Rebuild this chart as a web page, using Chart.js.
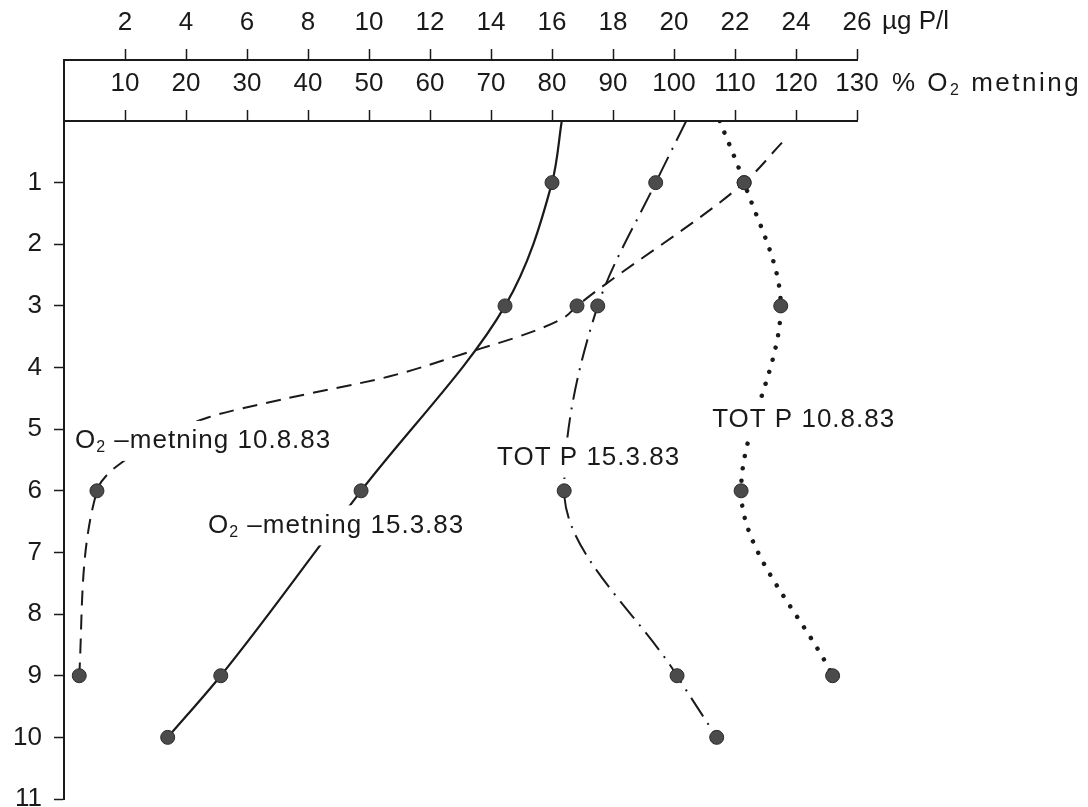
<!DOCTYPE html>
<html>
<head>
<meta charset="utf-8">
<script src="https://cdn.jsdelivr.net/npm/chart.js@4.4.1/dist/chart.umd.min.js"></script>
<style>
  html, body { margin: 0; padding: 0; background: #fff; }
  canvas { display: block; }
</style>
</head>
<body>
<canvas id="chart" width="1088" height="807"></canvas>
<script>
'use strict';
const depthO2Mar   = [0, 1, 3, 6, 9, 10];
const o2Mar        = [81.6, 80.0, 72.3, 48.7, 25.7, 17.0];          // % O2 metning 15.3.83
const sampledO2Mar = [false, true, true, true, true, true];

const depthO2Aug   = [0.35, 1, 3, 3.2, 3.45, 3.78, 4.15, 4.51, 4.81, 5.56, 6, 9];
const o2Aug        = [117.7, 111.5, 84.1, 81.8, 75.9, 65.4, 53.1, 36.1, 23.6, 9.2, 5.4, 2.5]; // % O2 metning 10.8.83
const sampledO2Aug = [false, true, true, false, false, false, false, false, false, false, true, true];

const depthPMar    = [0, 1, 3, 6, 9, 10];
const totPMar      = [20.4, 19.4, 17.5, 16.4, 20.1, 21.4];          // µg P/l 15.3.83
const sampledPMar  = [false, true, true, true, true, true];

const depthPAug    = [0, 1, 3, 6, 9];
const totPAug      = [21.5, 22.3, 23.5, 22.2, 25.2];                // µg P/l 10.8.83
const sampledPAug  = [false, true, true, true, true];

const pTicks  = { min: 0, max: 26, step: 2 };
const o2Ticks = { min: 0, max: 130, step: 10 };
const depthTicks = { min: 0, max: 11, step: 1 };

const INK = '#1a1a1a';
const FAMILY = "'Liberation Sans', Arial, Helvetica, sans-serif";
const MAIN_FONT = '26px ' + FAMILY;
const SUB_FONT = '16px ' + FAMILY;

function points(depths, values, sampled) {
  return depths.map((d, i) => ({ x: values[i], y: d, s: sampled[i] }));
}

function lineSet(data, axis, dash, width, cap) {
  return {
    data, xAxisID: axis,
    borderColor: INK, borderWidth: width, borderDash: dash, borderCapStyle: cap || 'butt',
    cubicInterpolationMode: 'monotone', fill: false,
    pointRadius: c => (c.raw && c.raw.s ? 7 : 0),
    pointBackgroundColor: '#4b4b4b', pointBorderColor: '#2b2b2b', pointBorderWidth: 1,
  };
}

// curve labels, placed in data units
const notes = [
  { axis: 'xO', x: 1.8,   depth: 5.19, parts: [['O'], ['2', 1], [' \u2013metning 10.8.83']] },
  { axis: 'xO', x: 23.6,  depth: 6.56, parts: [['O'], ['2', 1], [' \u2013metning 15.3.83']] },
  { axis: 'xP', x: 14.2,  depth: 5.46, parts: [['TOT P 15.3.83']] },
  { axis: 'xP', x: 21.25, depth: 4.85, parts: [['TOT P 10.8.83']] },
];

function drawParts(ctx, parts, x, y, measureOnly) {
  let cx = x;
  parts.forEach(([t, sub]) => {
    ctx.font = sub ? SUB_FONT : MAIN_FONT;
    if (!measureOnly) ctx.fillText(t, cx, sub ? y + 7 : y);
    cx += ctx.measureText(t).width;
  });
  return cx - x;
}

const extras = {
  id: 'extras',
  afterDatasetsDraw(chart) {
    const { ctx, scales } = chart;
    ctx.save();
    ctx.textBaseline = 'middle';
    ctx.textAlign = 'left';
    if ('letterSpacing' in ctx) ctx.letterSpacing = '1px';
    notes.forEach(n => {
      const x = scales[n.axis].getPixelForValue(n.x);
      const y = scales.y.getPixelForValue(n.depth);
      const w = drawParts(ctx, n.parts, x, y, true);
      ctx.fillStyle = '#fff';
      ctx.fillRect(x - 4, y - 20, w + 8, 40);
      ctx.fillStyle = INK;
      drawParts(ctx, n.parts, x, y);
    });
    ctx.restore();
  },
  afterDraw(chart) {
    const { ctx, chartArea, scales } = chart;
    ctx.save();
    // left axis runs up to the outer (µg) axis line
    ctx.strokeStyle = INK;
    ctx.lineWidth = 2;
    ctx.beginPath();
    ctx.moveTo(chartArea.left, scales.xP.bottom - 1);
    ctx.lineTo(chartArea.left, chartArea.top);
    ctx.stroke();
    // unit labels right of the axes
    ctx.fillStyle = INK;
    ctx.textBaseline = 'middle';
    ctx.textAlign = 'left';
    ctx.font = MAIN_FONT;
    ctx.fillText('\u00b5g P/l', chartArea.right + 25, 22);
    if ('letterSpacing' in ctx) ctx.letterSpacing = '2.5px';
    drawParts(ctx, [['% O'], ['2', 1], [' metning']], chartArea.right + 35, 84);
    ctx.restore();
  }
};

function hideZero(v) { return v === 0 ? '' : v; }
function tickInk(c) { return c.tick && c.tick.value === 0 ? 'rgba(0,0,0,0)' : INK; }

Chart.defaults.font.family = FAMILY;
Chart.defaults.font.size = 26;
Chart.defaults.color = INK;

new Chart(document.getElementById('chart'), {
  type: 'line',
  data: {
    datasets: [
      lineSet(points(depthO2Mar, o2Mar, sampledO2Mar), 'xO', [], 2.2),
      lineSet(points(depthPMar, totPMar, sampledPMar), 'xP', [22, 8, 2, 8], 2),
      lineSet(points(depthO2Aug, o2Aug, sampledO2Aug), 'xO', [15, 9], 2),
      lineSet(points(depthPAug, totPAug, sampledPAug), 'xP', [0.01, 12.5], 4.5, 'round'),
    ]
  },
  options: {
    responsive: false,
    animation: false,
    indexAxis: 'y',
    layout: { padding: { left: 0, top: 0, right: 231, bottom: 5 } },
    plugins: { legend: { display: false }, tooltip: { enabled: false } },
    scales: {
      xP: {
        type: 'linear', position: 'top', weight: 1,
        min: pTicks.min, max: pTicks.max,
        ticks: { stepSize: pTicks.step, padding: 11, maxRotation: 0, autoSkip: false, callback: hideZero },
        grid: { drawOnChartArea: false, tickLength: 11, tickWidth: 1.5, tickColor: tickInk },
        border: { display: true, color: INK, width: 2 },
        afterFit: s => { s.height = 60; }
      },
      xO: {
        type: 'linear', position: 'top', weight: 0,
        min: o2Ticks.min, max: o2Ticks.max,
        ticks: { stepSize: o2Ticks.step, padding: 11, maxRotation: 0, autoSkip: false, callback: hideZero },
        grid: { drawOnChartArea: false, tickLength: 11, tickWidth: 1.5, tickColor: tickInk },
        border: { display: true, color: INK, width: 2 },
        afterFit: s => { s.height = 61; }
      },
      y: {
        type: 'linear', position: 'left', reverse: true,
        min: depthTicks.min, max: depthTicks.max,
        ticks: { stepSize: depthTicks.step, padding: 12, autoSkip: false, callback: hideZero },
        grid: { drawOnChartArea: false, tickLength: 10, tickWidth: 1.5, tickColor: tickInk },
        border: { display: true, color: INK, width: 2 },
        afterFit: s => { s.width = 64; s.paddingTop = 0; s.paddingBottom = 0; }
      }
    }
  },
  plugins: [extras]
});
</script>
</body>
</html>
